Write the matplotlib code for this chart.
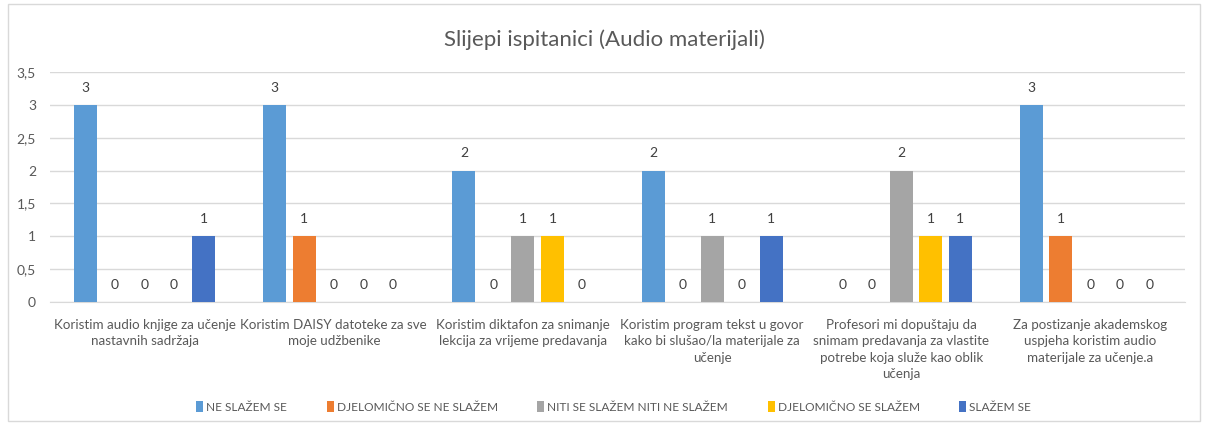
import matplotlib.pyplot as plt
import numpy as np
from matplotlib.patches import Rectangle

plt.rcParams['font.family'] = ['Lato', 'DejaVu Sans']

categories = [
    "Koristim audio knjige za učenje\nnastavnih sadržaja",
    "Koristim DAISY datoteke za sve\nmoje udžbenike",
    "Koristim diktafon za snimanje\nlekcija za vrijeme predavanja",
    "Koristim program tekst u govor\nkako bi slušao/la materijale za\nučenje",
    "Profesori mi dopuštaju da\nsnimam predavanja za vlastite\npotrebe koja služe kao oblik\nučenja",
    "Za postizanje akademskog\nuspjeha koristim audio\nmaterijale za učenje.a",
]
series_names = ["NE SLAŽEM SE", "DJELOMIČNO SE NE SLAŽEM", "NITI SE SLAŽEM NITI NE SLAŽEM",
                "DJELOMIČNO SE SLAŽEM", "SLAŽEM SE"]
ne_slazem = [3, 3, 2, 2, 0, 3]
djel_ne_slazem = [0, 1, 0, 0, 0, 1]
niti = [0, 0, 1, 1, 2, 0]
djel_slazem = [0, 0, 1, 0, 1, 0]
slazem = [1, 0, 0, 1, 1, 0]
colors = ["#5B9BD5", "#ED7D31", "#A5A5A5", "#FFC000", "#4472C4"]
values = [ne_slazem, djel_ne_slazem, niti, djel_slazem, slazem]

text_color = "#595959"

fig = plt.figure(figsize=(12.08, 4.23), dpi=100)
ax = fig.add_axes([0.0414, 0.286, 0.9396, 0.544])

x = np.arange(len(categories))
slot = 0.156
width = 0.122
for i, (name, vals) in enumerate(zip(series_names, values)):
    rects = ax.bar(x + (i - 2) * slot, vals, width, color=colors[i], label=name, zorder=3)
    ax.bar_label(rects, padding=8, fontsize=10, color="#404040")

ax.set_xlim(-0.5, len(categories) - 0.5)
ax.set_ylim(0, 3.5)
yt = np.arange(0, 3.51, 0.5)
ax.set_yticks(yt, [f"{v:g}".replace(".", ",") for v in yt])
ax.set_xticks(x, categories)
ax.tick_params(axis='both', length=0, labelsize=10, colors=text_color)
ax.tick_params(axis='x', pad=12, labelsize=9.6)
ax.tick_params(axis='y', pad=10)
for lbl in ax.get_xticklabels():
    lbl.set_linespacing(1.45)
ax.grid(axis='y', color="#D9D9D9", linewidth=1, zorder=0)
for s in ['top', 'right', 'left']:
    ax.spines[s].set_visible(False)
ax.spines['bottom'].set_color("#D9D9D9")

fig.text(0.5, 0.905, "Slijepi ispitanici (Audio materijali)", ha='center', va='center',
         fontsize=16, color=text_color)

leg = fig.legend(loc='center', bbox_to_anchor=(0.508, 0.038), ncol=5, frameon=False,
                 fontsize=8.6, handlelength=0.6, handleheight=1.0, handletextpad=0.25,
                 columnspacing=3.3)
for t in leg.get_texts():
    t.set_color(text_color)

fig.patches.append(Rectangle((8 / 1208, 2 / 423), 1192 / 1208, 417 / 423,
                             transform=fig.transFigure, fill=False,
                             edgecolor="#D9D9D9", linewidth=1))

plt.savefig('out.png', dpi=100)
